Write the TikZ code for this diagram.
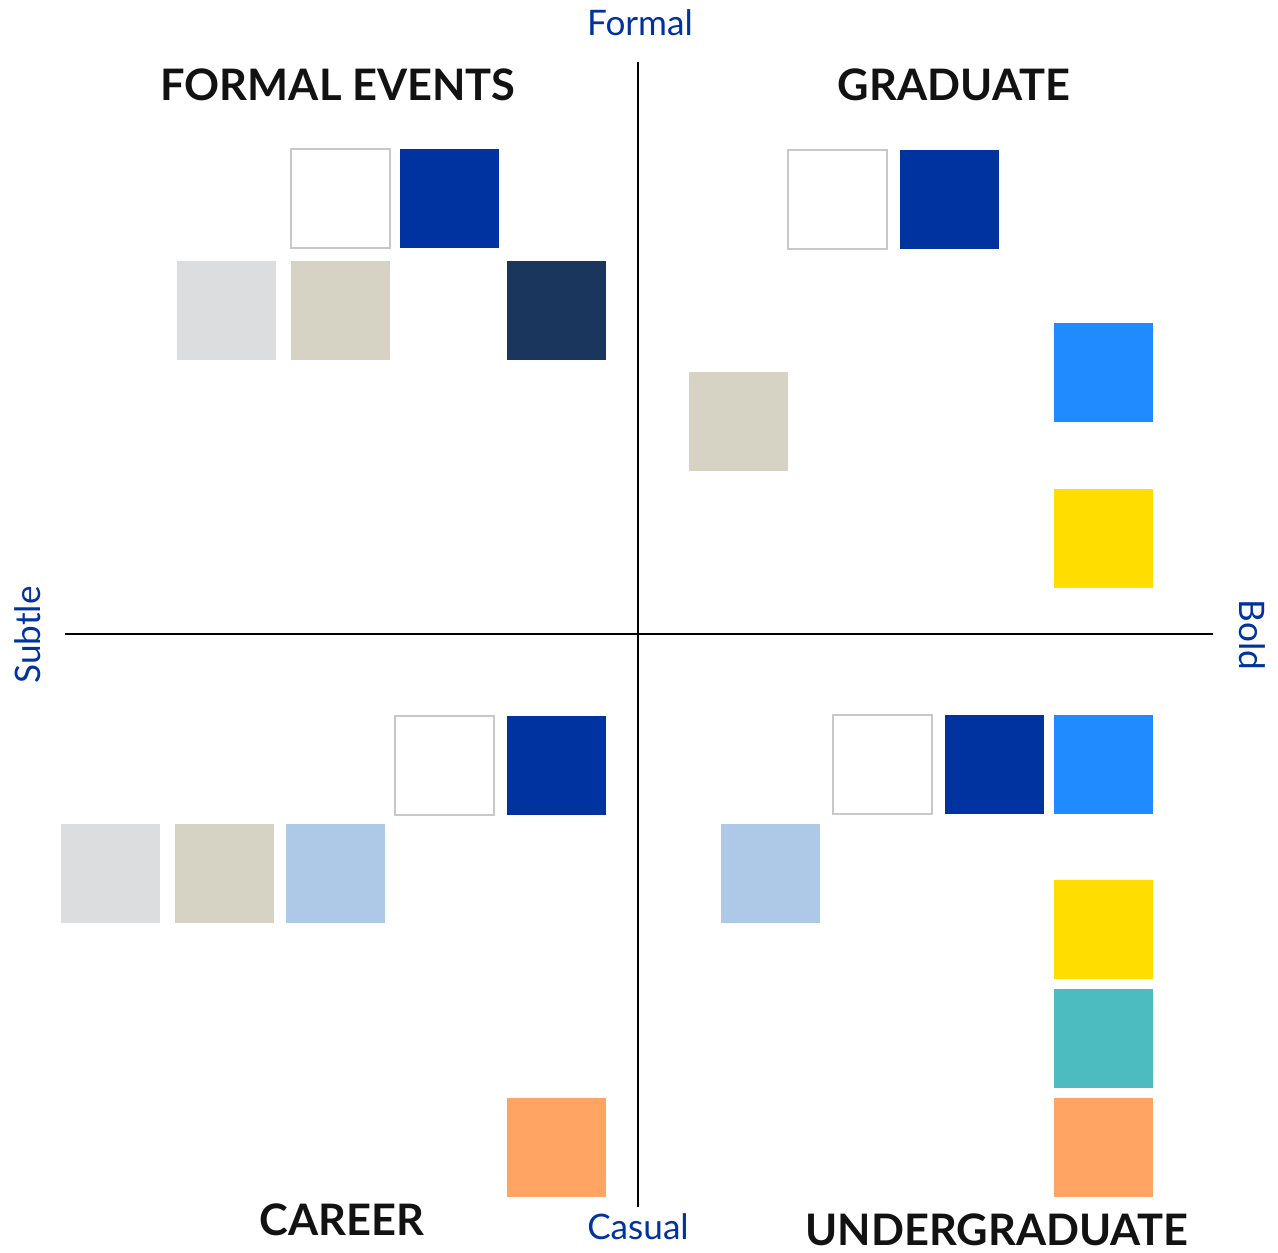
\documentclass[tikz,border=0pt]{standalone}
\usepackage{fontspec}
\setmainfont{Lato}
\usepackage{tikz}
\usetikzlibrary{positioning}
\definecolor{royal}{HTML}{0033A0}
\definecolor{navy}{HTML}{1B365D}
\definecolor{sky}{HTML}{1F8BFF}
\definecolor{pale}{HTML}{AEC8E8}
\definecolor{silver}{HTML}{DCDDDF}
\definecolor{sand}{HTML}{D6D2C4}
\definecolor{sun}{HTML}{FFDD00}
\definecolor{teal}{HTML}{4DBCC0}
\definecolor{peach}{HTML}{FFA463}
\definecolor{frame}{HTML}{C8C8C8}
\tikzstyle{swatch} = [anchor=north west, minimum size=1.98cm, inner sep=0pt, outer sep=0pt]
\tikzstyle{blank} = [swatch, draw=frame, line width=1.1pt, fill=white]
\tikzstyle{quad} = [font=\fontsize{24.7}{28}\selectfont\bfseries, text=black!93]
\tikzstyle{axislabel} = [font=\fontsize{20}{23}\selectfont, text=royal]

\begin{document}
\begin{tikzpicture}[x=0.02cm, y=-0.02cm]
        \useasboundingbox (0,0) rectangle (1278,1252);
        % Axes
        \coordinate (top) at (638,62);
        \coordinate (bottom) at (638,1207);
        \coordinate (left) at (65,634);
        \coordinate (right) at (1213,634);
        \draw[line width=1.3pt] (top) -- (bottom);
        \draw[line width=1.3pt] (left) -- (right);
        \node[axislabel] (formal) at (640,23) {Formal};
        \node[axislabel] (casual) at (638,1227) {Casual};
        \node[axislabel, rotate=90] (subtle) at (28,635) {Subtle};
        \node[axislabel, rotate=-90] (bold) at (1252,635) {Bold};
        % Quadrant titles
        \node[quad] (events) at (338,85) {FORMAL EVENTS};
        \node[quad] (grad) at (954,85) {GRADUATE};
        \node[quad] (career) at (342,1220) {CAREER};
        \node[quad] (undergrad) at (997,1230) {UNDERGRADUATE};
        % Formal events
        \node[blank] (fe1) at (291,149) {};
        \node[swatch, fill=royal] (fe2) at (400,149) {};
        \node[swatch, fill=silver] (fe3) at (177,261) {};
        \node[swatch, fill=sand] (fe4) at (291,261) {};
        \node[swatch, fill=navy] (fe5) at (507,261) {};
        % Graduate
        \node[blank] (gr1) at (788,150) {};
        \node[swatch, fill=royal] (gr2) at (900,150) {};
        \node[swatch, fill=sky] (gr3) at (1054,323) {};
        \node[swatch, fill=sand] (gr4) at (689,372) {};
        \node[swatch, fill=sun] (gr5) at (1054,489) {};
        % Career
        \node[blank] (ca1) at (395,716) {};
        \node[swatch, fill=royal] (ca2) at (507,716) {};
        \node[swatch, fill=silver] (ca3) at (61,824) {};
        \node[swatch, fill=sand] (ca4) at (175,824) {};
        \node[swatch, fill=pale] (ca5) at (286,824) {};
        \node[swatch, fill=peach] (ca6) at (507,1098) {};
        % Undergraduate
        \node[blank] (ug1) at (833,715) {};
        \node[swatch, fill=royal] (ug2) at (945,715) {};
        \node[swatch, fill=sky] (ug3) at (1054,715) {};
        \node[swatch, fill=pale] (ug4) at (721,824) {};
        \node[swatch, fill=sun] (ug5) at (1054,880) {};
        \node[swatch, fill=teal] (ug6) at (1054,989) {};
        \node[swatch, fill=peach] (ug7) at (1054,1098) {};
\end{tikzpicture}
\end{document}
